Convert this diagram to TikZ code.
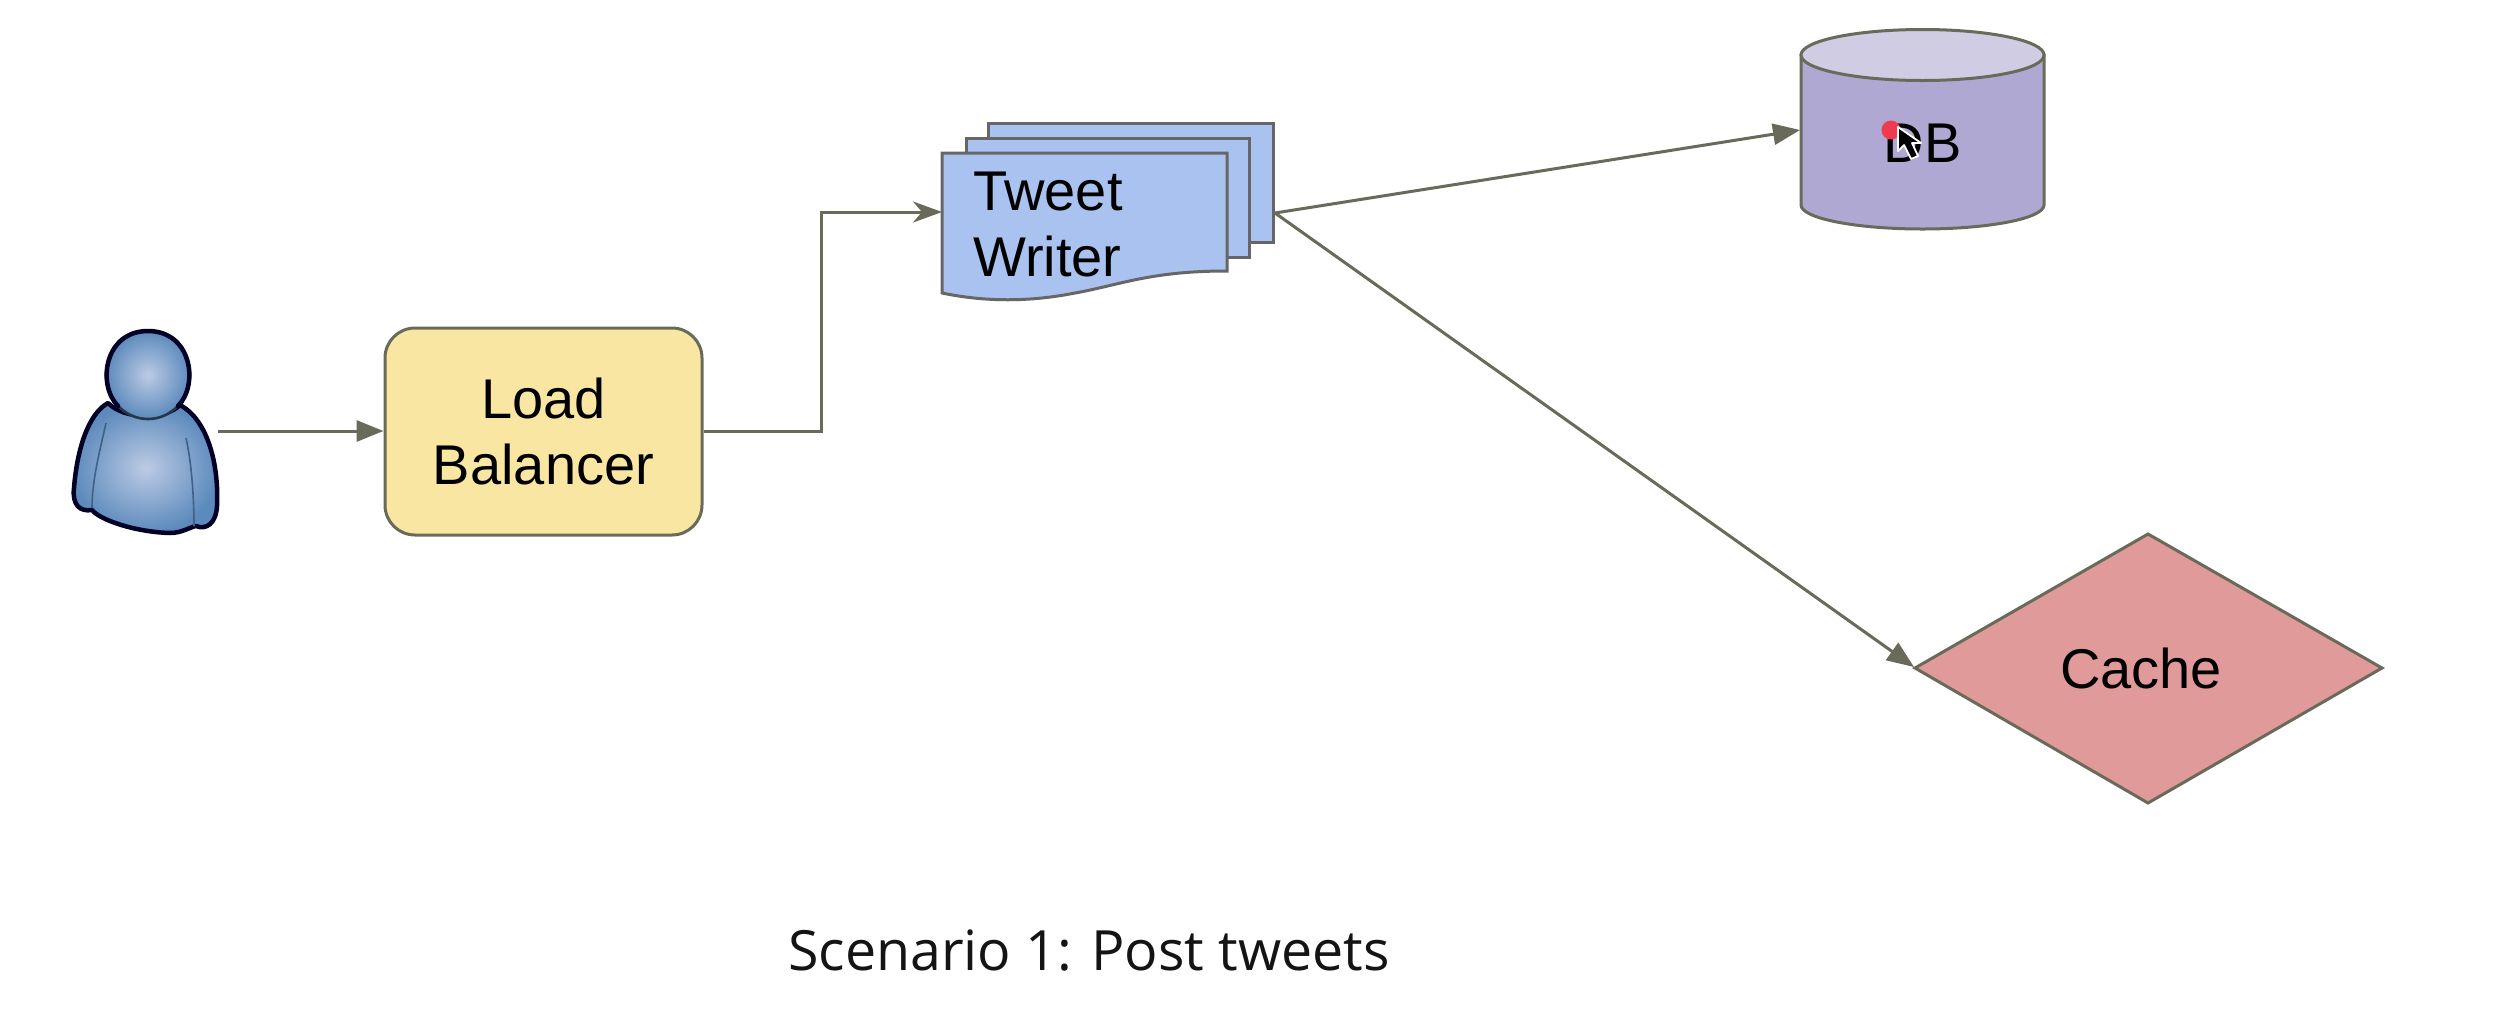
\documentclass[tikz,border=0pt]{standalone}
\usepackage{fontspec}
\setmainfont{Liberation Sans}
\newfontfamily\capfont{Open Sans}
\usetikzlibrary{arrows.meta,shapes.geometric}
\definecolor{linec}{HTML}{6A6A5A}
\definecolor{lbfill}{HTML}{FAE6A3}
\definecolor{twfill}{HTML}{A9C2EF}
\definecolor{dbbody}{HTML}{AFA8D2}
\definecolor{dbtop}{HTML}{D0CCE4}
\definecolor{cachefill}{HTML}{E09A9A}
\definecolor{edgegray}{HTML}{666666}
\definecolor{persondark}{HTML}{5C8ABC}
\definecolor{personlight}{HTML}{BCCBE4}
\definecolor{dotred}{HTML}{EE3B4E}
\tikzset{
  x=1pt,y=-1pt,
  conn/.style={draw=linec,line width=3pt,-{Triangle[length=27pt,width=21pt,fill=linec]}},
  connb/.style={draw=linec,line width=3pt,-{Stealth[length=29pt,width=21pt,inset=9pt,fill=linec]}},
  lab/.style={font=\fontsize{56}{66}\selectfont,text=black,inner sep=0pt,align=center},
  shapeline/.style={draw=edgegray,line width=3pt,line join=miter},
  personfill/.style={inner color=personlight,outer color=persondark},
}
\begin{document}
\begin{tikzpicture}
\useasboundingbox (0,0) rectangle (2502,1026);
\fill[white] (0,0) rectangle (2502,1026);

% person
\path[personfill,draw=black!85!blue,line width=4.5pt,line join=round]
  (108,403) .. controls (88,414) and (77,450) .. (74,488)
  .. controls (72,505) and (80,512) .. (92,510)
  .. controls (100,520) and (135,532) .. (170,533)
  .. controls (182,533) and (190,527) .. (196,526)
  .. controls (206,530) and (216,524) .. (217,506)
  .. controls (219,465) and (208,420) .. (180,405)
  .. controls (165,420) and (125,420) .. (108,403) -- cycle;
\draw[persondark!70!black,line width=1.6pt] (106,423) .. controls (100,450) and (92,480) .. (92,508);
\draw[persondark!70!black,line width=1.6pt] (186,438) .. controls (192,465) and (194,500) .. (194,526);
\path[personfill] (148,375) ellipse [x radius=42,y radius=44];
\draw[black!60!persondark,line width=2.6pt] (148,375) ellipse [x radius=42,y radius=44];
\draw[black!85!blue,line width=4.5pt,line cap=round]
  (118,406) .. controls (97,385) and (104,331) .. (148,331)
  .. controls (192,331) and (199,385) .. (178,406);
\coordinate (person) at (218,431);

% load balancer
\node[rectangle,rounded corners=30pt,draw=linec,line width=3pt,fill=lbfill,
      minimum width=317pt,minimum height=207pt,inner sep=0pt,
      lab] (lb) at (543.5,431.5) {Load\\Balancer};

% tweet writer stack
\coordinate (twback) at (1275,213);
\path[shapeline,fill=twfill] (988,123) rectangle (1273,242);
\path[shapeline,fill=twfill] (966,138) rectangle (1249,257);
\path[shapeline,fill=twfill] (942,153) -- (1227,153) -- (1227,271)
  .. controls (1150,271) and (1120,285) .. (1075,293)
  .. controls (1030,302) and (985,302) .. (942,293) -- cycle;
\coordinate (twin) at (942,212);
\node[lab,align=left,anchor=base west] (tw) at (973,276) {Tweet\\Writer};

% db
\path[draw=linec,line width=3pt,fill=dbbody] (1801,55) -- (1801,205)
  arc [start angle=180,end angle=360,x radius=121.5,y radius=-24] -- (2044,55) -- cycle;
\path[draw=linec,line width=3pt,fill=dbtop] (1922.5,55) ellipse [x radius=121.5,y radius=25.5];
\coordinate (dbw) at (1800,130);
\node[lab,anchor=base] (db) at (1922.5,162) {DB};
\fill[dotred] (1891,130) circle (9.5);
\path[fill=black,draw=white,line width=1.8pt,line join=round]
  (1898,127) -- (1898,151) -- (1904,145) -- (1911,159) -- (1918,156) -- (1912,143) -- (1921,143) -- cycle;

% cache
\path[draw=linec,line width=3pt,fill=cachefill,line join=miter]
  (1915,668) -- (2148,534) -- (2382,668) -- (2148,803) -- cycle;
\coordinate (cachew) at (1914,667);
\node[lab,anchor=base] (cache) at (2141,688) {Cache};

% caption
\node[font=\capfont\fontsize{55.5}{60}\selectfont,text=black!92,anchor=base west,inner sep=0pt] (cap) at (788,970) {Scenario 1: Post tweets};

% connectors
\draw[conn] (person) -- (person -| lb.west);
\draw[connb] (lb.east) -- (821,431.5) |- (twin);
\draw[conn] (twback) -- (dbw);
\draw[conn] (twback) -- (cachew);
\end{tikzpicture}
\end{document}
